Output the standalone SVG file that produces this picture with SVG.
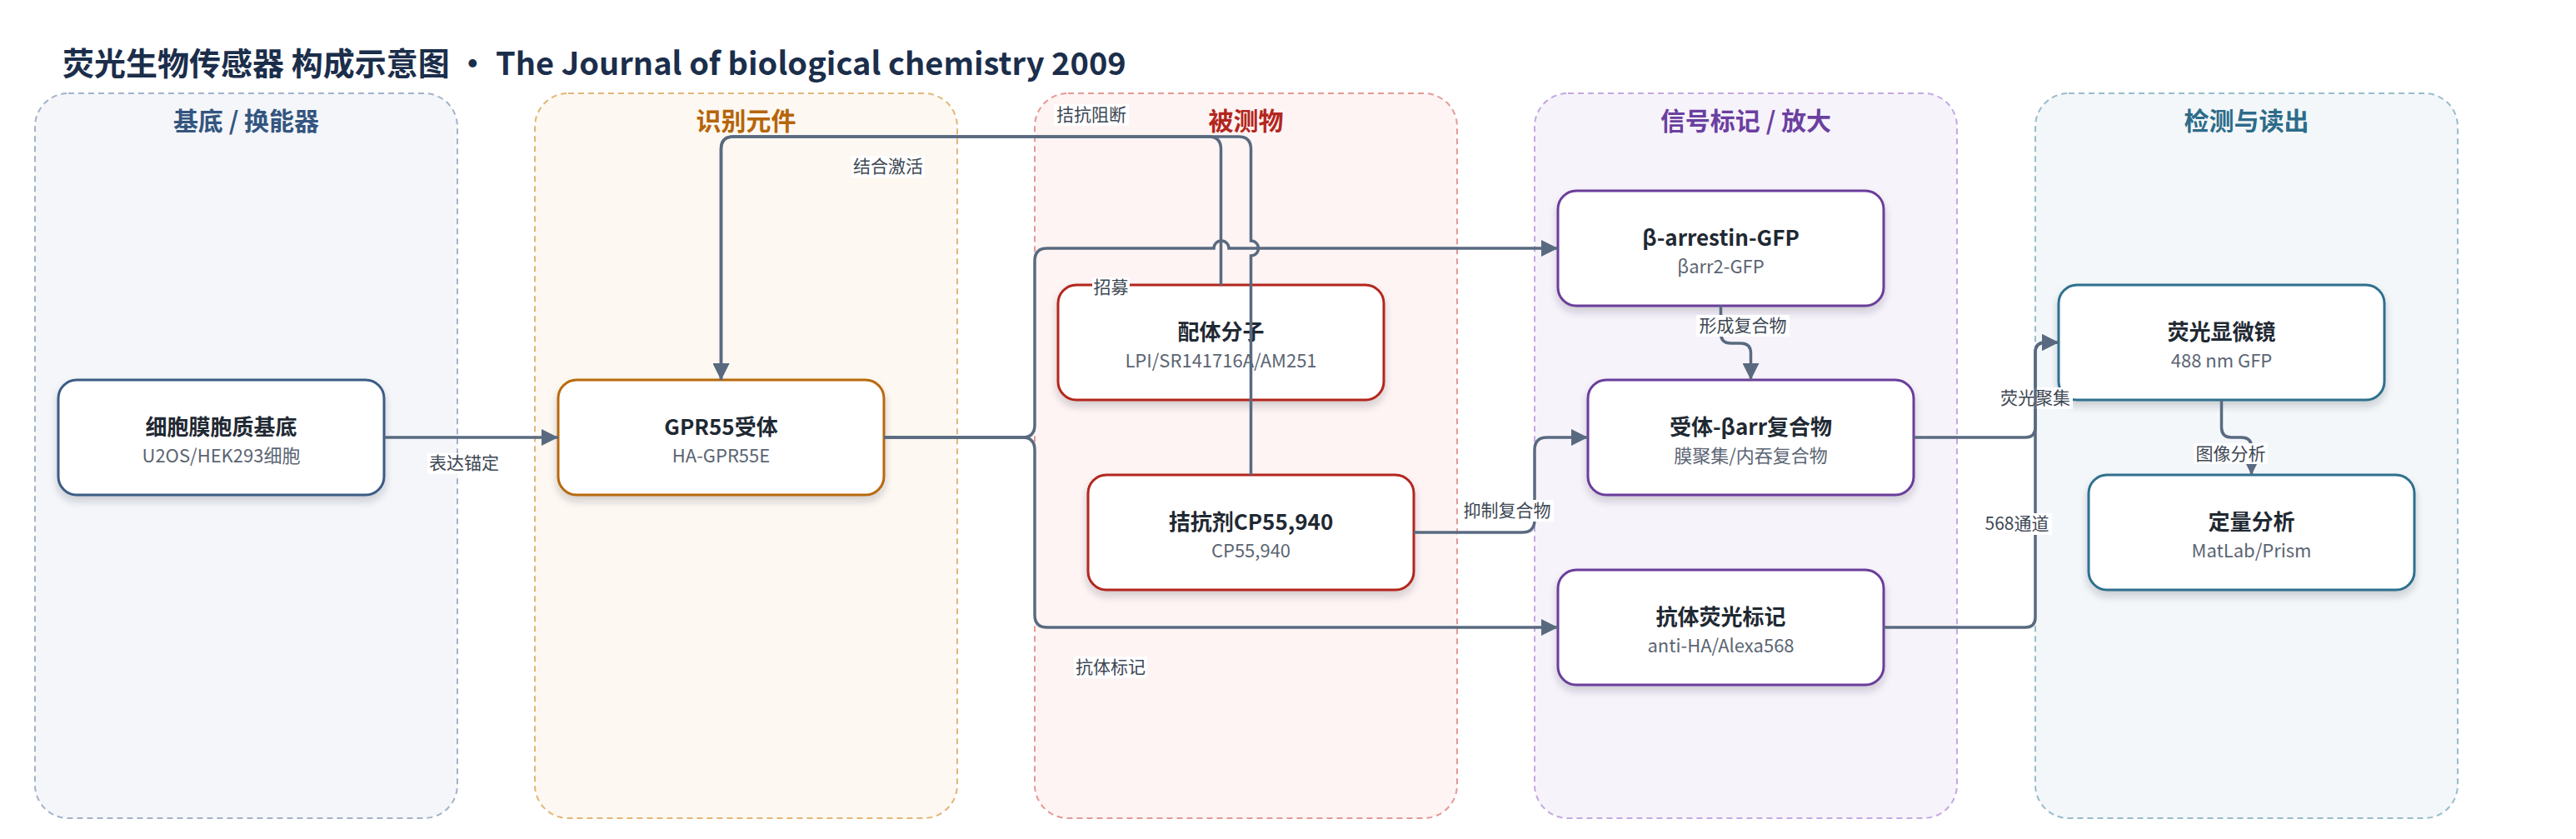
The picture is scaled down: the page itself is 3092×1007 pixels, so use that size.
<svg xmlns="http://www.w3.org/2000/svg" width="3092" height="1007" viewBox="0 0 3092 1007">
<defs>
<style>
text{font-family:"Noto Sans CJK SC","Noto Sans",sans-serif;}
.title{font-size:38px;font-weight:700;fill:#1b2e4b;}
.lane{stroke-width:2;stroke-dasharray:7 5;}
.lt{font-size:30px;font-weight:700;text-anchor:middle;}
.node{fill:#fff;stroke-width:3;filter:url(#sh);}
.nt{font-size:26px;font-weight:700;fill:#1f2933;text-anchor:middle;}
.ns{font-size:22px;fill:#5b6573;text-anchor:middle;}
.edge{fill:none;stroke:#596a80;stroke-width:3.5;marker-end:url(#arr);}
.lbg{fill:#fff;}
.lbl{font-size:21px;fill:#3e4754;text-anchor:middle;}
</style>
<filter id="sh" x="-10%" y="-20%" width="120%" height="150%">
<feDropShadow dx="0" dy="6" stdDeviation="5" flood-color="#1f2d3d" flood-opacity="0.2"/>
</filter>
<marker id="arr" viewBox="0 0 20 20" refX="20" refY="10" markerWidth="20" markerHeight="20" markerUnits="userSpaceOnUse" orient="auto">
<path d="M0,0 L20,10 L0,20 z" fill="#596a80"/>
</marker>
</defs>
<rect width="3092" height="1007" fill="#fff"/>
<text class="title" x="75" y="90">荧光生物传感器 构成示意图 • The Journal of biological chemistry 2009</text>

<g id="lanes">
<g id="lane-substrate"><rect class="lane" x="42" y="112" width="507" height="870" rx="40" fill="#f4f6fa" stroke="#a3b3c9"/><text class="lt" x="295.5" y="156" fill="#34557f">基底 / 换能器</text></g>
<g id="lane-recognition"><rect class="lane" x="642" y="112" width="507" height="870" rx="40" fill="#fdf8f1" stroke="#e3b677"/><text class="lt" x="895.5" y="156" fill="#b5650a">识别元件</text></g>
<g id="lane-analyte"><rect class="lane" x="1242" y="112" width="507" height="870" rx="40" fill="#fdf4f3" stroke="#e39a96"/><text class="lt" x="1495.5" y="156" fill="#b3261e">被测物</text></g>
<g id="lane-signal"><rect class="lane" x="1842" y="112" width="507" height="870" rx="40" fill="#f7f3fb" stroke="#c4a8e0"/><text class="lt" x="2095.5" y="156" fill="#6b3fa0">信号标记 / 放大</text></g>
<g id="lane-readout"><rect class="lane" x="2443" y="112" width="507" height="870" rx="40" fill="#f3f7f9" stroke="#98bccb"/><text class="lt" x="2696.5" y="156" fill="#2d6b8a">检测与读出</text></g>
</g>

<g id="nodes">
<g id="n-membrane"><rect class="node" x="70" y="456" width="391" height="138" rx="22" stroke="#3b5b85"/><text class="nt" x="265.5" y="522">细胞膜胞质基底</text><text class="ns" x="265.5" y="555">U2OS/HEK293细胞</text></g>
<g id="n-gpr55"><rect class="node" x="670" y="456" width="391" height="138" rx="22" stroke="#b8690b"/><text class="nt" x="865.5" y="522">GPR55受体</text><text class="ns" x="865.5" y="555">HA-GPR55E</text></g>
<g id="n-ligand"><rect class="node" x="1270" y="342" width="391" height="138" rx="22" stroke="#b3261e"/><text class="nt" x="1465.5" y="408">配体分子</text><text class="ns" x="1465.5" y="441">LPI/SR141716A/AM251</text></g>
<g id="n-antagonist"><rect class="node" x="1306" y="570" width="391" height="138" rx="22" stroke="#b3261e"/><text class="nt" x="1501.5" y="636">拮抗剂CP55,940</text><text class="ns" x="1501.5" y="669">CP55,940</text></g>
<g id="n-barr"><rect class="node" x="1870" y="229" width="391" height="138" rx="22" stroke="#6a3d9a"/><text class="nt" x="2065.5" y="295">β-arrestin-GFP</text><text class="ns" x="2065.5" y="328">βarr2-GFP</text></g>
<g id="n-complex"><rect class="node" x="1906" y="456" width="391" height="138" rx="22" stroke="#6a3d9a"/><text class="nt" x="2101.5" y="522">受体-βarr复合物</text><text class="ns" x="2101.5" y="555">膜聚集/内吞复合物</text></g>
<g id="n-antibody"><rect class="node" x="1870" y="684" width="391" height="138" rx="22" stroke="#6a3d9a"/><text class="nt" x="2065.5" y="750">抗体荧光标记</text><text class="ns" x="2065.5" y="783">anti-HA/Alexa568</text></g>
<g id="n-microscope"><rect class="node" x="2471" y="342" width="391" height="138" rx="22" stroke="#2f6f8f"/><text class="nt" x="2666.5" y="408">荧光显微镜</text><text class="ns" x="2666.5" y="441">488 nm GFP</text></g>
<g id="n-quant"><rect class="node" x="2507" y="570" width="391" height="138" rx="22" stroke="#2f6f8f"/><text class="nt" x="2702.5" y="636">定量分析</text><text class="ns" x="2702.5" y="669">MatLab/Prism</text></g>
</g>

<g id="connectors">
<path class="edge" d="M461,525 H670"/>
<rect class="lbg" x="513" y="544" width="88" height="25"/><text class="lbl" x="557" y="563">表达锚定</text>

<path class="edge" d="M1061,525 H1227 Q1242,525 1242,510 V313 Q1242,298 1257,298 H1457 A9,9 0 0 1 1475,298 H1870"/>
<rect class="lbg" x="1311" y="333" width="45" height="25"/><text class="lbl" x="1333.5" y="352">招募</text>

<path class="edge" d="M1061,525 H1227 Q1242,525 1242,540 V738 Q1242,753 1257,753 H1870"/>
<rect class="lbg" x="1289" y="788" width="88" height="26"/><text class="lbl" x="1333" y="808">抗体标记</text>

<path class="edge" d="M1465.5,342 V179 Q1465.5,164 1450.5,164 H880.5 Q865.5,164 865.5,179 V456"/>
<rect class="lbg" x="1022" y="187" width="88" height="26"/><text class="lbl" x="1066" y="207">结合激活</text>

<path class="edge" d="M1501.5,570 V307 A9,9 0 0 0 1501.5,289 V179 Q1501.5,164 1486.5,164 H880.5 Q865.5,164 865.5,179 V456"/>
<rect class="lbg" x="1265" y="125" width="90" height="26"/><text class="lbl" x="1310" y="145">拮抗阻断</text>

<path class="edge" d="M1697,639 H1827 Q1842,639 1842,624 V540 Q1842,525 1857,525 H1906"/>
<rect class="lbg" x="1753" y="600" width="112" height="26"/><text class="lbl" x="1809" y="620">抑制复合物</text>

<path class="edge" d="M2065.5,367 V400 Q2065.5,412 2077.5,412 H2089.5 Q2101.5,412 2101.5,424 V456"/>
<rect class="lbg" x="2036" y="378" width="112" height="26"/><text class="lbl" x="2092" y="398">形成复合物</text>

<path class="edge" d="M2297,525 H2431 Q2443,525 2443,513 V423 Q2443,411 2455,411 H2471"/>
<rect class="lbg" x="2398" y="465" width="90" height="26"/><text class="lbl" x="2443" y="485">荧光聚集</text>

<path class="edge" d="M2261,753 H2431 Q2443,753 2443,741 V423 Q2443,411 2455,411 H2471"/>
<rect class="lbg" x="2379" y="616" width="84" height="26"/><text class="lbl" x="2421" y="636">568通道</text>

<path class="edge" d="M2666.5,480 V513 Q2666.5,525 2678.5,525 H2690.5 Q2702.5,525 2702.5,537 V570"/>
<rect class="lbg" x="2633" y="532" width="89" height="25"/><text class="lbl" x="2677.5" y="552">图像分析</text>
</g>
</svg>
